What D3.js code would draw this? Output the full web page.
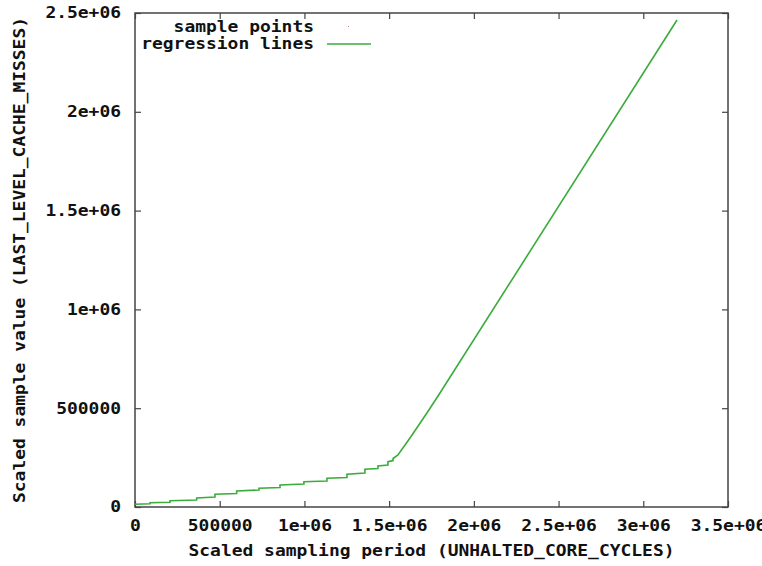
<!DOCTYPE html>
<html lang="en">
	<head>
		<meta charset="utf-8">
		<title>regression lines</title>
		<script type="text/javascript" src="https://cdn.jsdelivr.net/npm/d3@7"></script>
		<style type="text/css">
			body { margin: 0; background: #fff; }
			text { font-family: "DejaVu Sans Mono", monospace; font-size: 15px; font-weight: bold; fill: #111; }
		</style>
	</head>

	<body>
        <script type="text/javascript">

            // chart size
			var w = 762;
			var h = 566;
			var plotLeft = 135, plotRight = 728, plotTop = 13, plotBottom = 507;
			var charW = 10.8;  // gnuplot font is wide

			// regression line (step-ish, then straight)
			var periods = [0, 88500, 88500, 206600, 206600, 364000, 364000, 472000, 472000,
				600000, 600000, 732000, 732000, 856000, 856000, 997000, 997000, 1133000, 1133000,
				1251000, 1251000, 1357000, 1357000, 1434000, 1434000, 1493000, 1493000, 1523000,
				1523000, 1552000, 1623000, 1723000, 1800000, 3199000];
			var values = [13700, 16200, 21800, 24300, 31900, 35400, 45500, 50600, 64300,
				68300, 81000, 86000, 94600, 98700, 111300, 116400, 128000, 131600, 145200,
				149300, 165500, 172000, 190800, 194800, 207500, 212600, 229300, 235300,
				245500, 263200, 349200, 475700, 577000, 2464700];

			var xTicks = [0, 500000, 1000000, 1500000, 2000000, 2500000, 3000000, 3500000];
			var xTickLabels = ["0", "500000", "1e+06", "1.5e+06", "2e+06", "2.5e+06", "3e+06", "3.5e+06"];
			var yTicks = [0, 500000, 1000000, 1500000, 2000000, 2500000];
			var yTickLabels = ["0", "500000", "1e+06", "1.5e+06", "2e+06", "2.5e+06"];

			var legendNames = ["sample points", "regression lines"];

			var green = "#3aac3a";
			var frameColor = "#444";

			var svg = d3.select("body")
						.append("svg")
						.attr("width", w)
						.attr("height", h);

			var xScale = d3.scaleLinear().domain([0, 3500000]).range([plotLeft, plotRight]);
			var yScale = d3.scaleLinear().domain([0, 2500000]).range([plotBottom, plotTop]);

			function stretch(sel) {
				sel.attr("textLength", function() { return this.textContent.length * charW; })
				   .attr("lengthAdjust", "spacingAndGlyphs");
			}

			// bottom axis, ticks point inward
			var xAxis = d3.axisBottom(xScale)
						  .tickValues(xTicks)
						  .tickFormat(function(d, i) { return xTickLabels[i]; })
						  .tickSizeInner(-6).tickSizeOuter(0).tickPadding(13);
			var gx = svg.append("g")
				.attr("transform", "translate(0," + plotBottom + ")")
				.call(xAxis);
			gx.selectAll("text").style("font-size", "15px").style("font-family", null).call(stretch);

			var yAxis = d3.axisLeft(yScale)
						  .tickValues(yTicks)
						  .tickFormat(function(d, i) { return yTickLabels[i]; })
						  .tickSizeInner(-6).tickSizeOuter(0).tickPadding(14);
			var gy = svg.append("g")
				.attr("transform", "translate(" + plotLeft + ",0)")
				.call(yAxis);
			gy.selectAll("text").style("font-size", "15px").style("font-family", null).call(stretch);

			// mirrored ticks on top and right
			svg.append("g")
				.attr("transform", "translate(0," + plotTop + ")")
				.call(d3.axisTop(xScale).tickValues(xTicks).tickFormat("").tickSizeInner(-6).tickSizeOuter(0));
			svg.append("g")
				.attr("transform", "translate(" + plotRight + ",0)")
				.call(d3.axisRight(yScale).tickValues(yTicks).tickFormat("").tickSizeInner(-6).tickSizeOuter(0));

			svg.selectAll(".domain").remove();
			svg.selectAll(".tick line").attr("stroke", frameColor).attr("stroke-width", 1.2);

			// frame
			svg.append("rect")
				.attr("x", plotLeft).attr("y", plotTop)
				.attr("width", plotRight - plotLeft).attr("height", plotBottom - plotTop)
				.attr("fill", "none")
				.attr("stroke", frameColor)
				.attr("stroke-width", 1.5);

			// regression line
			var line = d3.line()
				.x(function(d) { return xScale(d); })
				.y(function(d, i) { return yScale(values[i]); });
			svg.append("path")
				.datum(periods)
				.attr("d", line)
				.attr("fill", "none")
				.attr("stroke", green)
				.attr("stroke-width", 1.6);

			// axis titles
			svg.append("text")
				.attr("x", (plotLeft + plotRight) / 2)
				.attr("y", 556)
				.attr("text-anchor", "middle")
				.text("Scaled sampling period (UNHALTED_CORE_CYCLES)")
				.call(stretch);

			svg.append("text")
				.attr("transform", "translate(25," + ((plotTop + plotBottom) / 2) + ") rotate(-90)")
				.attr("text-anchor", "middle")
				.text("Scaled sample value (LAST_LEVEL_CACHE_MISSES)")
				.call(stretch);

			// legend
			var legend = svg.append("g");
			legend.selectAll("text")
				.data(legendNames)
				.enter()
				.append("text")
				.attr("x", 314)
				.attr("y", function(d, i) { return 27 + i * 17; })
				.attr("dy", "0.36em")
				.attr("text-anchor", "end")
				.text(function(d) { return d; })
				.call(stretch);
			legend.append("rect")
				.attr("x", 348).attr("y", 26)
				.attr("width", 1).attr("height", 1)
				.attr("fill", "#c08080");
			legend.append("line")
				.attr("x1", 327).attr("x2", 371)
				.attr("y1", 44).attr("y2", 44)
				.attr("stroke", green)
				.attr("stroke-width", 1.6);

        </script>
	</body>
</html>
